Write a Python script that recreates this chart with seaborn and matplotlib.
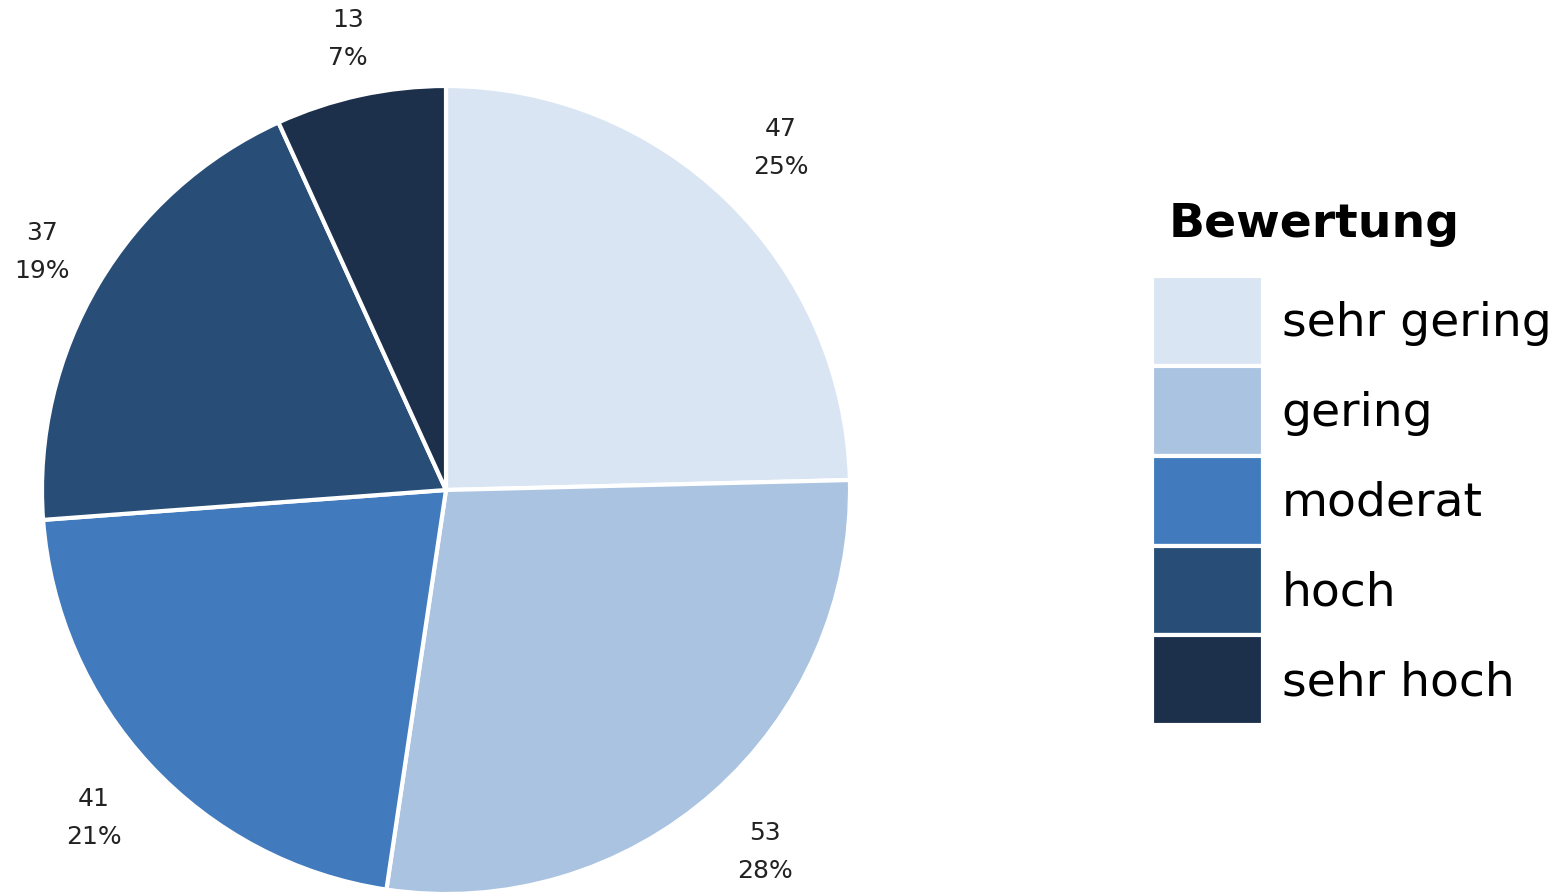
import matplotlib
matplotlib.use("Agg")
import matplotlib.pyplot as plt
import seaborn as sns
import numpy as np

categories = ["sehr gering", "gering", "moderat", "hoch", "sehr hoch"]
counts = [47, 53, 41, 37, 13]
colors = ["#dae5f3", "#a9c3e1", "#417bbd", "#284e78", "#1c2f4b"]
# label distance per slice (relative to radius)
label_r = [1.186, 1.193, 1.19, 1.163, 1.144]

sns.set_style("white")
plt.rcParams["font.family"] = ["DejaVu Sans"]

total = sum(counts)
labels = [f"{c}\n{round(100 * c / total)}%" for c in counts]

fig = plt.figure(figsize=(15.6, 8.95), dpi=100)
ax = fig.add_axes([42 / 1560, 0.0, 808 / 1560, 808 / 895])

wedges, texts = ax.pie(
    counts,
    labels=labels,
    colors=colors,
    startangle=90,
    counterclock=False,
    labeldistance=1.17,
    wedgeprops=dict(edgecolor="white", linewidth=3),
    textprops=dict(fontsize=18, color="#222222", ha="center", va="center",
                   linespacing=1.75),
)
for w, t, r in zip(wedges, texts, label_r):
    ang = np.deg2rad((w.theta1 + w.theta2) / 2)
    t.set_position((r * np.cos(ang), r * np.sin(ang)))

ax.set_xlim(-1, 1)
ax.set_ylim(-1, 1)
ax.set_aspect("equal")

leg = fig.legend(
    wedges, categories,
    loc="upper left",
    bbox_to_anchor=(1152 / 1560, 1 - 277 / 895),
    frameon=False,
    fontsize=34,
    handlelength=2.35,
    handleheight=2.55,
    handletextpad=0.4,
    labelspacing=0.0,
    borderpad=0,
    borderaxespad=0,
)
for t in leg.get_texts():
    t.set_color("black")

fig.text(1169 / 1560, 1 - 237 / 895, "Bewertung", fontsize=34,
         fontweight="bold", color="black", ha="left", va="baseline")

fig.savefig("out.png", dpi=100)
